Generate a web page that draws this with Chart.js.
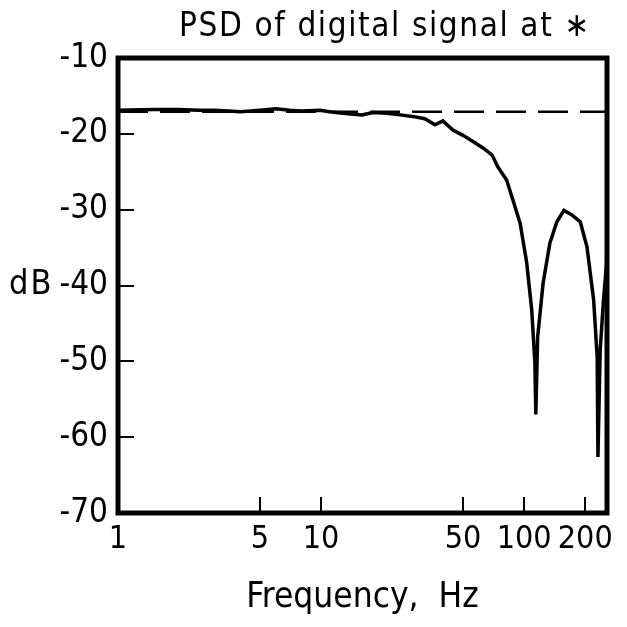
<!DOCTYPE html>
<html>
<head>
<meta charset="utf-8">
<script src="https://cdn.jsdelivr.net/npm/chart.js@4"></script>
<style>
  html, body { margin: 0; padding: 0; background: #fff; }
</style>
</head>
<body>
<canvas id="psdChart" width="627" height="627"></canvas>
<script>
// Werte
var freqHz = [1, 1.5, 2, 2.5, 3, 3.5, 4, 4.5, 5, 6, 7, 8, 9.9, 11, 12.8, 14, 15.9, 18, 21.1, 24.5, 28.2, 32.4, 36.4, 39.8, 44.6, 50, 56, 63, 69.6, 74, 82, 88, 95.6, 103, 109, 113, 114.2, 116.6, 124, 134, 145, 157, 172, 189, 204, 220, 229, 231, 237, 246, 256];
var psdDb  = [-16.9, -16.8, -16.8, -16.9, -16.9, -17.0, -17.1, -17.0, -16.9, -16.7, -16.9, -17.0, -16.9, -17.1, -17.3, -17.4, -17.5, -17.2, -17.3, -17.5, -17.7, -18.0, -18.8, -18.3, -19.5, -20.2, -21.0, -21.9, -22.8, -24.3, -26.1, -28.7, -31.8, -37.0, -43.2, -50.2, -57.0, -46.8, -39.7, -34.4, -31.6, -30.1, -30.7, -31.6, -34.9, -41.9, -49.4, -62.6, -48.5, -41.9, -36.5];
var refLevelDb = -17.1;   // gestrichelte Linie
var refLevelFreq = [1, 256];

var xTickValues = [1, 5, 10, 50, 100, 200];
var yTickValues = [-70, -60, -50, -40, -30, -20, -10];
var yTickLabels = ['-70', '-60', '-50', '-40', '-30', '-20', '-10'];
var xInnerTicks = [5, 10, 50, 100, 200];
var yInnerTicks = [-60, -50, -40, -30, -20];

var fontFamily = "'DejaVu Sans Condensed', 'DejaVu Sans', sans-serif";

// Rahmen, innere Striche und Texte
var framePlugin = {
    id: 'frame',
    afterDatasetsDraw: function(chart) {
        var ctx = chart.ctx;
        var a = chart.chartArea;
        var xs = chart.scales.x;
        var ys = chart.scales.y;
        ctx.save();
        ctx.strokeStyle = '#000';
        ctx.lineWidth = 2;
        xInnerTicks.forEach(function(v) {
            var px = Math.round(xs.getPixelForValue(v));
            ctx.beginPath();
            ctx.moveTo(px, a.bottom);
            ctx.lineTo(px, a.bottom - 16);
            ctx.stroke();
        });
        yInnerTicks.forEach(function(v) {
            var py = Math.round(ys.getPixelForValue(v));
            ctx.beginPath();
            ctx.moveTo(a.left, py);
            ctx.lineTo(a.left + 16, py);
            ctx.stroke();
        });
        ctx.lineWidth = 5;
        ctx.strokeRect(a.left, a.top, a.right - a.left, a.bottom - a.top);
        ctx.restore();
    },
    afterDraw: function(chart) {
        var ctx = chart.ctx;
        var ys = chart.scales.y;
        ctx.save();
        ctx.fillStyle = '#000';
        ctx.font = '33px ' + fontFamily;
        ctx.letterSpacing = '1.6px';
        ctx.textAlign = 'center';
        ctx.textBaseline = 'alphabetic';
        ctx.fillText('PSD of digital signal at \u2217', 385, 36);
        ctx.letterSpacing = '2px';
        ctx.font = '34px ' + fontFamily;
        ctx.textAlign = 'left';
        ctx.textBaseline = 'middle';
        ctx.fillText('dB', 9, ys.getPixelForValue(-40));
        ctx.restore();
    }
};

var ctx = document.getElementById('psdChart').getContext('2d');
var psdChart = new Chart(ctx, {
    type: 'line',
    data: {
        datasets: [{
            data: freqHz.map(function(f, i) { return { x: f, y: psdDb[i] }; }),
            borderColor: '#000',
            borderWidth: 3.5,
            pointRadius: 0,
            tension: 0
        }, {
            data: refLevelFreq.map(function(f) { return { x: f, y: refLevelDb }; }),
            borderColor: '#000',
            borderWidth: 2.5,
            borderDash: [30, 12],
            pointRadius: 0
        }]
    },
    options: {
        responsive: false,
        animation: false,
        layout: { padding: { top: 58, right: 20, left: 0, bottom: 0 } },
        plugins: {
            legend: { display: false },
            tooltip: { enabled: false }
        },
        scales: {
            x: {
                type: 'logarithmic',
                min: 1,
                max: 256,
                grid: { display: false, drawTicks: false },
                border: { display: false },
                afterBuildTicks: function(scale) {
                    scale.ticks = xTickValues.map(function(v) { return { value: v }; });
                },
                afterFit: function(scale) { scale.height = 114; },
                ticks: {
                    autoSkip: false,
                    maxRotation: 0,
                    padding: 7,
                    color: '#000',
                    font: { family: fontFamily, size: 32 },
                    callback: function(value) { return String(value); }
                },
                title: {
                    display: true,
                    text: 'Frequency,  Hz',
                    color: '#000',
                    font: { family: fontFamily, size: 35 },
                    padding: { top: 0, bottom: 8 }
                }
            },
            y: {
                min: -70,
                max: -10,
                grid: { display: false, drawTicks: false },
                border: { display: false },
                afterBuildTicks: function(scale) {
                    scale.ticks = yTickValues.map(function(v) { return { value: v }; });
                },
                afterFit: function(scale) { scale.width = 118; },
                ticks: {
                    padding: 10,
                    color: '#000',
                    font: { family: fontFamily, size: 33 },
                    callback: function(value) { return yTickLabels[yTickValues.indexOf(value)]; }
                }
            }
        }
    },
    plugins: [framePlugin]
});
</script>
</body>
</html>
